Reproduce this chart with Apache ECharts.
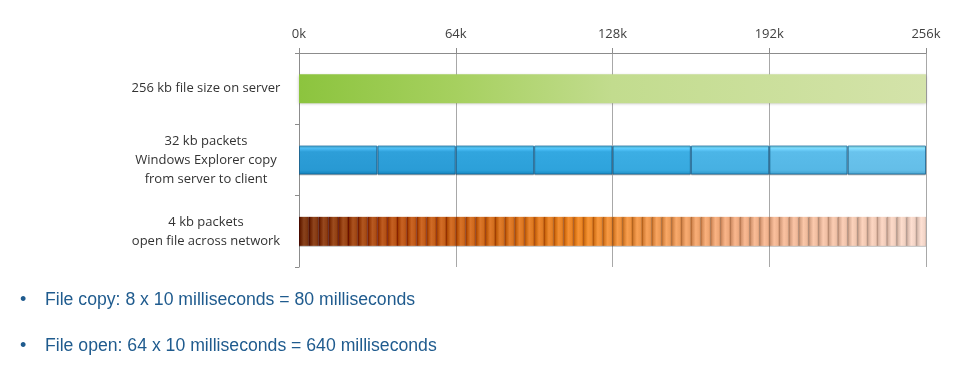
<!DOCTYPE html>
<html>
<head>
<meta charset="utf-8">
<script src="https://cdn.jsdelivr.net/npm/echarts@6/dist/echarts.min.js"></script>
<style>html,body{margin:0;padding:0;background:#fff;}#c{width:960px;height:379px;}</style>
</head>
<body>
<div id="c"></div>
<script>
const categories = ['256 kb file size on server', '32 kb packets\nWindows Explorer copy\nfrom server to client', '4 kb packets\nopen file across network'];
const tickLabels = ['0k', '64k', '128k', '192k', '256k'];
const fileSize = [256];
const copyPackets = [32, 32, 32, 32, 32, 32, 32, 32];
const openPackets = [4, 4, 4, 4, 4, 4, 4, 4, 4, 4, 4, 4, 4, 4, 4, 4,
                     4, 4, 4, 4, 4, 4, 4, 4, 4, 4, 4, 4, 4, 4, 4, 4,
                     4, 4, 4, 4, 4, 4, 4, 4, 4, 4, 4, 4, 4, 4, 4, 4,
                     4, 4, 4, 4, 4, 4, 4, 4, 4, 4, 4, 4, 4, 4, 4, 4];
const notes = ['File copy: 8 x 10 milliseconds = 80 milliseconds', 'File open: 64 x 10 milliseconds = 640 milliseconds'];

// colour ramps (style only)
const ramps = [
  [[0, [140, 196, 62]], [0.25, [166, 208, 95]], [0.5, [194, 220, 142]], [1, [212, 227, 170]]],
  [[0, [44, 156, 214]], [0.5, [52, 170, 226]], [1, [112, 198, 238]]],
  [[0, [122, 52, 16]], [0.15, [186, 84, 22]], [0.45, [236, 136, 40]], [0.7, [238, 172, 132]], [1, [242, 214, 202]]]
];
function rampAt(r, t) {
  for (let i = 1; i < r.length; i++) {
    if (t <= r[i][0]) {
      const a = r[i - 1], b = r[i];
      const k = (t - a[0]) / (b[0] - a[0]);
      return a[1].map((v, j) => Math.round(v + (b[1][j] - v) * k));
    }
  }
  return r[r.length - 1][1];
}
const rgb = (c, d) => 'rgb(' + c.map(v => Math.max(0, Math.min(255, Math.round(v + d)))).join(',') + ')';

const rows = [fileSize, copyPackets, openPackets];
const total = 256;
const series = [];
rows.forEach((segs, row) => {
  let acc = 0;
  segs.forEach((v, i) => {
    const t = (acc + v / 2) / total;
    acc += v;
    const base = rampAt(ramps[row], t);
    let color, borderColor = 'transparent', borderWidth = 0;
    if (row === 0) {
      color = {
        type: 'linear', x: 0, y: 0, x2: 1, y2: 0,
        colorStops: ramps[0].map(s => ({ offset: s[0], color: rgb(s[1], 0) }))
      };
    } else if (row === 1) {
      color = {
        type: 'linear', x: 0, y: 0, x2: 0, y2: 1,
        colorStops: [
          { offset: 0, color: rgb(base, 55) }, { offset: 0.12, color: rgb(base, 25) },
          { offset: 0.22, color: rgb(base, 0) }, { offset: 0.85, color: rgb(base, -5) },
          { offset: 1, color: rgb(base, -30) }
        ]
      };
      borderColor = 'rgba(20,100,150,0.75)';
      borderWidth = 1;
    } else {
      color = {
        type: 'linear', x: 0, y: 0, x2: 1, y2: 0,
        colorStops: [
          { offset: 0, color: rgb(base, -70) }, { offset: 0.15, color: rgb(base, -25) },
          { offset: 0.5, color: rgb(base, 12) }, { offset: 0.85, color: rgb(base, 0) },
          { offset: 1, color: rgb(base, -30) }
        ]
      };
    }
    const data = categories.map((c, k) => (k === row ? v : '-'));
    series.push({
      type: 'bar', stack: 'all', barWidth: 29, silent: true,
      data: data,
      itemStyle: {
        color: color, borderColor: borderColor, borderWidth: borderWidth,
        shadowColor: 'rgba(0,0,0,0.25)', shadowBlur: row === 0 ? 3 : 0, shadowOffsetY: 1
      }
    });
  });
});

const chart = echarts.init(document.getElementById('c'));
const graphics = [];
notes.forEach((n, i) => {
  graphics.push({ type: 'text', x: 20, y: 300 + i * 46, silent: true,
    style: { text: '•', fill: '#1f5b8e', font: '18px "Liberation Sans"', verticalAlign: 'middle' } });
  graphics.push({ type: 'text', x: 45, y: 300 + i * 46, scaleX: 0.98, silent: true,
    style: { text: n, fill: '#1f5b8e', font: '18px "Liberation Sans"', verticalAlign: 'middle' } });
});
chart.setOption({
  animation: false,
  grid: { left: 299, right: 34, top: 53, bottom: 112, containLabel: false },
  xAxis: {
    type: 'value', position: 'top', min: 0, max: 256, interval: 64,
    axisLine: { show: true, lineStyle: { color: '#8c8c8c' } },
    axisTick: { show: true, length: 5, lineStyle: { color: '#8c8c8c' } },
    axisLabel: {
      margin: 12, color: '#404040', fontSize: 13, fontFamily: 'Open Sans',
      formatter: (v) => tickLabels[Math.round(v / 64)]
    },
    splitLine: { show: true, lineStyle: { color: '#a8a8a8', width: 1 } }
  },
  yAxis: {
    type: 'category', inverse: true, data: categories,
    axisLine: { show: true, lineStyle: { color: '#8c8c8c' } },
    axisTick: { show: true, length: 4, lineStyle: { color: '#8c8c8c' } },
    axisLabel: {
      align: 'center', margin: 93, color: '#333', fontSize: 13, lineHeight: 19,
      fontFamily: 'Open Sans'
    }
  },
  series: series,
  graphic: graphics
});
</script>
</body>
</html>
